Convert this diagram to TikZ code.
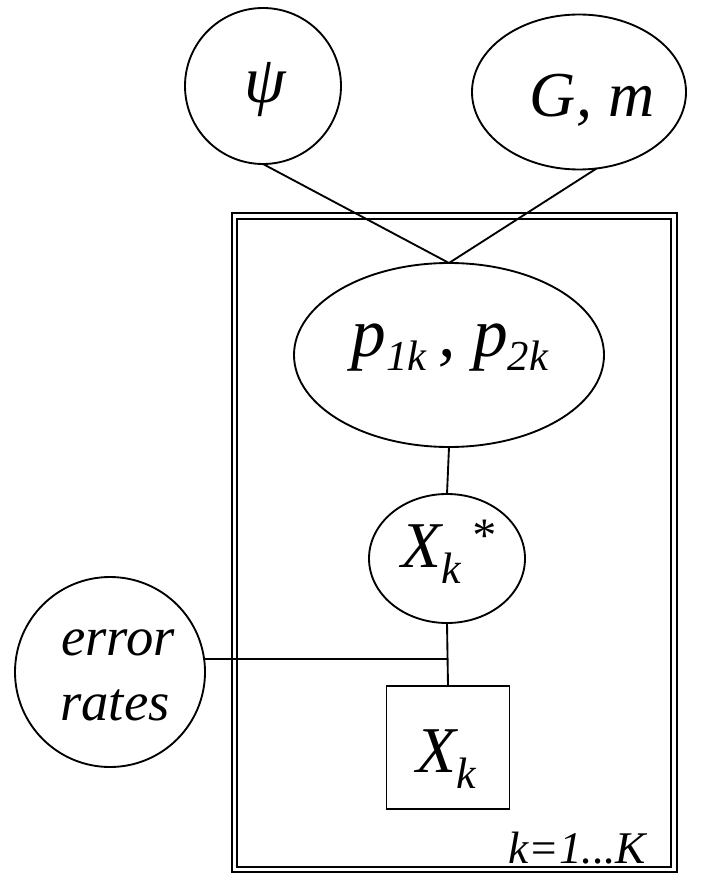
\documentclass[tikz,border=0pt]{standalone}
\usepackage{fontspec}
\setmainfont{Liberation Serif}
\usetikzlibrary{shapes.geometric}
% font size helper and lowered/raised index text
\newcommand\fsz[1]{\fontsize{#1}{#1}\selectfont}
\newcommand\lowtext[3]{\raisebox{-#2}{\fsz{#1}#3}}
\begin{document}
\begin{tikzpicture}[x=0.75pt,y=-0.75pt,
  var/.style={draw, line width=1.4pt, inner sep=0pt, outer sep=0pt},
  oval/.style={var, ellipse},
  round/.style={var, circle},
  edge/.style={line width=1.4pt},
  platebox/.style={draw, line width=1.4pt},
  lbl/.style={inner sep=0pt, outer sep=0pt, anchor=base, font=\itshape}]
  \useasboundingbox (0,0) rectangle (708,873);

  % plate (double frame)
  \draw[platebox] (232,213) rectangle (677,872);
  \draw[platebox] (237,219) rectangle (671,867);

  % variables
  \node[round, minimum size=117pt] (psi) at (263,86) {};
  \node[oval, minimum width=160.5pt, minimum height=116.25pt] (gm) at (579,92) {};
  \node[oval, minimum width=232.5pt, minimum height=138pt] (p) at (449,355) {};
  \node[oval, minimum width=117pt, minimum height=96.75pt] (xs) at (447,558.5) {};
  \node[round, minimum size=142.5pt] (err) at (110,672) {};
  \node[var, rectangle, minimum size=92.25pt] (xk) at (448,747.5) {};

  % labels
  \node[lbl] (psitext) at (265,103) {\fsz{50pt}ψ};
  \node[lbl] (gmtext) at (592,117) {\fsz{48pt}G, m};
  \node[lbl] (ptext) at (450,356) {\fsz{52pt}p\lowtext{32pt}{11pt}{1k}\,, p\lowtext{32pt}{11pt}{2k}};
  \node[lbl] (xstext) at (448,567) {\fsz{49pt}X\lowtext{33pt}{12pt}{k}\hspace{7pt}\raisebox{12pt}{\fsz{36pt}*}};
  \node[lbl] (errtext) at (118,655) {\fsz{41pt}error};
  \node[lbl] (ratestext) at (115,720) {\fsz{41pt}rates};
  \node[lbl] (xktext) at (446,772) {\fsz{49pt}X\lowtext{33pt}{12pt}{k}};
  \node[lbl, anchor=base east] (range) at (646,863) {\fsz{34pt}k=1...K};

  % connectors
  \coordinate (join) at (err.8.5 -| xs.south);
  \draw[edge] (psi.south) -- (p.north);
  \draw[edge] (gm.-77) -- (p.north);
  \draw[edge] (p.south) -- (xs.north);
  \draw[edge] (xs.south) -- (xk.north);
  \draw[edge] (err.8.5) -- (join);
\end{tikzpicture}
\end{document}
